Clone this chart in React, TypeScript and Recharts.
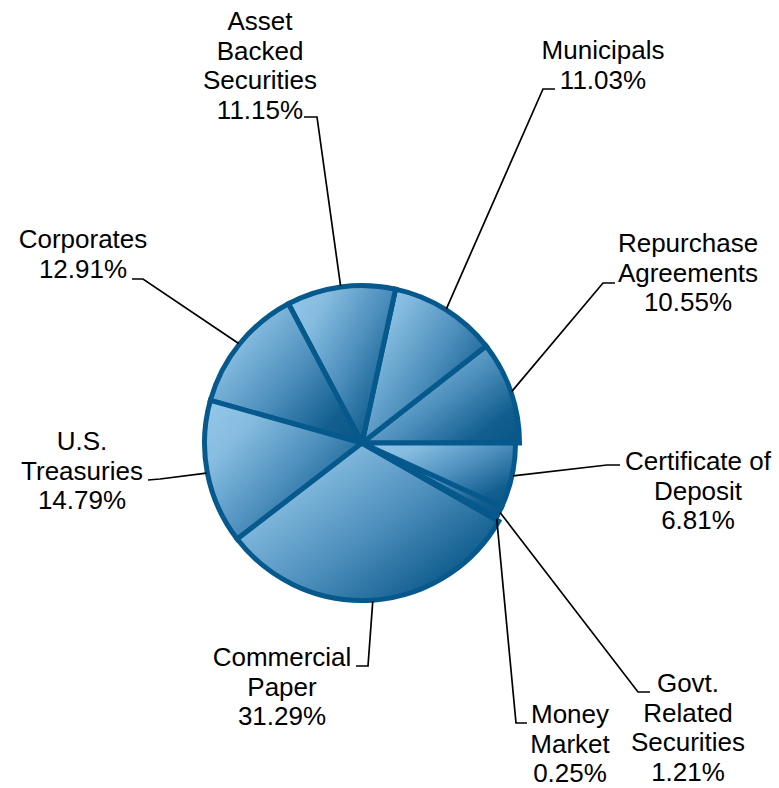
import { PieChart, Pie, Cell } from "recharts";

// portfolio composition, % of total
const categories = [
  "Repurchase Agreements",
  "Municipals",
  "Asset Backed Securities",
  "Corporates",
  "U.S. Treasuries",
  "Commercial Paper",
  "Money Market",
  "Govt. Related Securities",
  "Certificate of Deposit",
];
const shares = [10.55, 11.03, 11.15, 12.91, 14.79, 31.29, 0.25, 1.21, 6.81];
const labelText = [
  ["Repurchase", "Agreements"],
  ["Municipals"],
  ["Asset", "Backed", "Securities"],
  ["Corporates"],
  ["U.S.", "Treasuries"],
  ["Commercial", "Paper"],
  ["Money", "Market"],
  ["Govt.", "Related", "Securities"],
  ["Certificate of", "Deposit"],
];
// the last three slices sit slightly inside the rim
const insetSlices = [6, 7, 8];

const data = categories.map((name, i) => ({ name, value: shares[i] }));

// label placement: elbow of the leader line, end of its short tail,
// text centre x and first baseline y
const labelLayout = [
  { elbow: [603, 283], tail: [615, 283], x: 688, y: 252 },
  { elbow: [543, 89], tail: [555, 89], x: 603, y: 59 },
  { elbow: [317, 117], tail: [304, 117], x: 260, y: 30 },
  { elbow: [143, 279], tail: [132, 279], x: 83, y: 248 },
  { elbow: [160, 479], tail: [148, 480], x: 82, y: 450 },
  { elbow: [368, 666], tail: [356, 666], x: 282, y: 666 },
  { elbow: [516, 723], tail: [527, 723], x: 570, y: 723 },
  { elbow: [638, 692], tail: [650, 692], x: 688, y: 692 },
  { elbow: [607, 465], tail: [620, 465], x: 698, y: 470 },
];

const W = 779;
const H = 788;
const CX = 362;
const CY = 443;
const R = 157.5;
const R_INSET = 153.5;
const RADIAN = Math.PI / 180;
const EDGE = "#06598c";
const FONT = "'Liberation Sans', Arial, sans-serif";
const LINE_H = 29.5;

function renderLabel(props: any) {
  const { cx, cy, midAngle, index } = props;
  const r = (insetSlices.includes(index) ? R_INSET : R) + 1;
  const sx = cx + r * Math.cos(-midAngle * RADIAN);
  const sy = cy + r * Math.sin(-midAngle * RADIAN);
  const lay = labelLayout[index];
  const lines = [...labelText[index], `${shares[index].toFixed(2)}%`];
  return (
    <g key={`lbl-${index}`}>
      <polyline
        points={`${sx},${sy} ${lay.elbow[0]},${lay.elbow[1]} ${lay.tail[0]},${lay.tail[1]}`}
        fill="none"
        stroke="#000"
        strokeWidth={1.7}
      />
      <text
        x={lay.x}
        y={lay.y}
        textAnchor="middle"
        fontFamily={FONT}
        fontSize={26}
        fill="#000"
      >
        {lines.map((t, j) => (
          <tspan key={j} x={lay.x} y={lay.y + j * LINE_H}>
            {t}
          </tspan>
        ))}
      </text>
    </g>
  );
}

export default function App() {
  return (
    <div style={{ position: "absolute", left: 0, top: 0, width: W, height: H, background: "#fff" }}>
      <PieChart width={W} height={H} margin={{ top: 0, right: 0, bottom: 0, left: 0 }}>
        <defs>
          <linearGradient id="sliceGrad" x1="0" y1="0.1" x2="1" y2="0.9">
            <stop offset="0%" stopColor="#92c6e8" />
            <stop offset="20%" stopColor="#86bce0" />
            <stop offset="55%" stopColor="#4b8dbb" />
            <stop offset="85%" stopColor="#125f8f" />
            <stop offset="100%" stopColor="#0a5789" />
          </linearGradient>
        </defs>
        <Pie
          data={data}
          dataKey="value"
          nameKey="name"
          cx={CX}
          cy={CY}
          outerRadius={R}
          startAngle={0}
          endAngle={360}
          stroke={EDGE}
          strokeWidth={5}
          label={renderLabel}
          labelLine={false}
          isAnimationActive={false}
        >
          {data.map((d, i) => (
            <Cell
              key={d.name}
              fill={insetSlices.includes(i) ? "none" : "url(#sliceGrad)"}
              stroke={insetSlices.includes(i) ? "none" : EDGE}
            />
          ))}
        </Pie>
        <Pie
          data={data}
          dataKey="value"
          nameKey="name"
          cx={CX}
          cy={CY}
          outerRadius={R_INSET}
          startAngle={0}
          endAngle={360}
          stroke={EDGE}
          strokeWidth={5}
          isAnimationActive={false}
        >
          {data.map((d, i) => (
            <Cell
              key={d.name}
              fill={insetSlices.includes(i) ? "url(#sliceGrad)" : "none"}
              stroke={insetSlices.includes(i) ? EDGE : "none"}
            />
          ))}
        </Pie>
      </PieChart>
    </div>
  );
}
